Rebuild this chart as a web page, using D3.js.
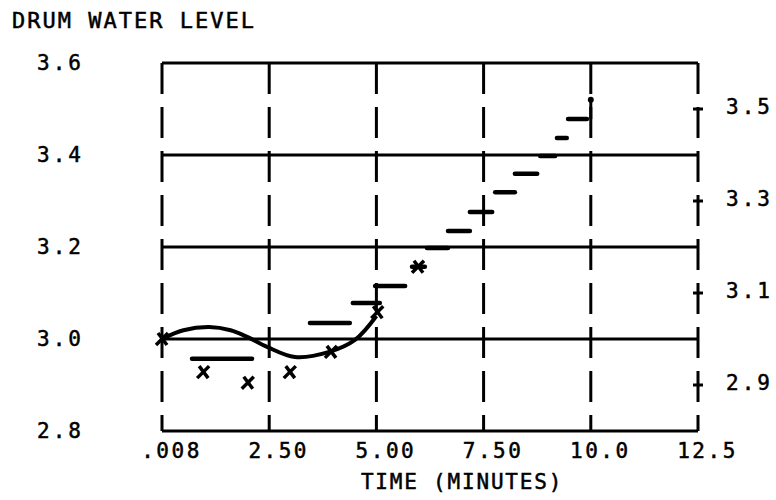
<!DOCTYPE html>
<html>
<head>
<meta charset="utf-8">
<script src="https://cdn.jsdelivr.net/npm/d3@7"></script>
<style>
  body { margin: 0; background: #fff; }
  text { font-family: "DejaVu Sans Mono", monospace; fill: #000; stroke: #000; stroke-width: 0.5px; }
</style>
</head>
<body>
<script>
// tick values and labels
var xTicks = [0, 2.5, 5, 7.5, 10, 12.5];
var xTickLabels = [".008", "2.50", "5.00", "7.50", "10.0", "12.5"];
var yTicksLeft = [2.8, 3.0, 3.2, 3.4, 3.6];
var yTickLabelsLeft = ["2.8", "3.0", "3.2", "3.4", "3.6"];
var yTicksRight = [2.9, 3.1, 3.3, 3.5];
var yTickLabelsRight = ["2.9", "3.1", "3.3", "3.5"];
var gridLevels = [3.0, 3.2, 3.4];

// smooth response curve
var curveTime  = [0, 0.5, 1.1, 1.6, 2.0, 2.45, 3.1, 3.9, 4.5, 5.0];
var curveLevel = [3.0, 3.019, 3.026, 3.019, 3.004, 2.983, 2.961, 2.972, 2.998, 3.05];

// step dashes
var stepStart = [0.70, 3.45, 4.45, 4.97, 5.83, 6.18, 6.67, 7.18, 7.77, 8.23, 8.82, 9.21, 9.47];
var stepEnd   = [2.10, 4.38, 5.08, 5.67, 6.13, 6.67, 7.18, 7.70, 8.23, 8.75, 9.17, 9.44, 9.91];
var stepLevel = [2.957, 3.035, 3.078, 3.115, 3.157, 3.198, 3.235, 3.276, 3.319, 3.359, 3.398, 3.437, 3.478];

// final rise at t = 10
var riseTime = 10.0;
var riseLevels = [3.478, 3.52];

// x markers
var markTime  = [0, 0.96, 2.0, 2.98, 3.94, 5.02, 5.97];
var markLevel = [3.0, 2.928, 2.905, 2.928, 2.972, 3.058, 3.157];

var svg = d3.select("body").append("svg")
    .attr("width", 776)
    .attr("height", 500);

var x = d3.scaleLinear().domain([0, 12.5]).range([162, 698]);
var y = d3.scaleLinear().domain([2.8, 3.6]).range([431, 63]);

svg.append("text")
    .attr("x", 12)
    .attr("y", 28)
    .style("font-size", "22px")
    .style("letter-spacing", "2px")
    .text("DRUM WATER LEVEL");

// vertical dashed grid
svg.selectAll(".vgrid")
    .data(xTicks)
    .enter()
    .append("line")
    .attr("x1", function(d) { return x(d); })
    .attr("x2", function(d) { return x(d); })
    .attr("y1", y(3.6))
    .attr("y2", y(2.8))
    .attr("stroke", "#000")
    .attr("stroke-width", 3)
    .attr("stroke-dasharray", "31,13");

// horizontal solid lines
svg.selectAll(".hgrid")
    .data(gridLevels.concat([2.8, 3.6]))
    .enter()
    .append("line")
    .attr("x1", x(0))
    .attr("x2", x(12.5))
    .attr("y1", function(d) { return y(d); })
    .attr("y2", function(d) { return y(d); })
    .attr("stroke", "#000")
    .attr("stroke-width", 3);

// left axis labels
var left = svg.append("g")
    .attr("transform", "translate(" + x(0) + ",0)")
    .call(d3.axisLeft(y).tickValues(yTicksLeft).tickSize(0).tickPadding(78)
        .tickFormat(function(d, i) { return yTickLabelsLeft[i]; }));
left.select(".domain").remove();
left.selectAll("text")
    .style("font-size", "21px")
    .style("letter-spacing", "3px")
    .attr("font-family", null);

// right axis ticks and labels
svg.selectAll(".rtick")
    .data(yTicksRight)
    .enter()
    .append("line")
    .attr("x1", x(12.5) - 5)
    .attr("x2", x(12.5) + 5)
    .attr("y1", function(d) { return y(d); })
    .attr("y2", function(d) { return y(d); })
    .attr("stroke", "#000")
    .attr("stroke-width", 3);
svg.selectAll(".rlabel")
    .data(yTicksRight)
    .enter()
    .append("text")
    .attr("x", 726)
    .attr("y", function(d) { return y(d) - 2; })
    .attr("dy", "0.35em")
    .style("font-size", "21px")
    .style("letter-spacing", "3px")
    .text(function(d, i) { return yTickLabelsRight[i]; });

// bottom axis labels
var bottom = svg.append("g")
    .attr("transform", "translate(9," + y(2.8) + ")")
    .call(d3.axisBottom(x).tickValues(xTicks).tickSize(0).tickPadding(12)
        .tickFormat(function(d, i) { return xTickLabels[i]; }));
bottom.select(".domain").remove();
bottom.selectAll("text")
    .style("font-size", "21px")
    .style("letter-spacing", "2.5px")
    .attr("font-family", null);

svg.append("text")
    .attr("x", 462)
    .attr("y", 489)
    .attr("text-anchor", "middle")
    .style("font-size", "21px")
    .style("letter-spacing", "1.8px")
    .text("TIME (MINUTES)");

// curve
svg.append("path")
    .datum(curveTime)
    .attr("fill", "none")
    .attr("stroke", "#000")
    .attr("stroke-width", 4)
    .attr("d", d3.line()
        .curve(d3.curveCatmullRom)
        .x(function(d) { return x(d); })
        .y(function(d, i) { return y(curveLevel[i]); }));

// step dashes
svg.selectAll(".step")
    .data(stepLevel)
    .enter()
    .append("line")
    .attr("x1", function(d, i) { return x(stepStart[i]); })
    .attr("x2", function(d, i) { return x(stepEnd[i]); })
    .attr("y1", function(d) { return y(d); })
    .attr("y2", function(d) { return y(d); })
    .attr("stroke", "#000")
    .attr("stroke-width", 4.5)
    .attr("stroke-linecap", "round");

svg.append("line")
    .attr("x1", x(riseTime))
    .attr("x2", x(riseTime))
    .attr("y1", y(riseLevels[0]))
    .attr("y2", y(riseLevels[1]))
    .attr("stroke", "#000")
    .attr("stroke-width", 3);
svg.append("circle")
    .attr("cx", x(riseTime))
    .attr("cy", y(riseLevels[1]))
    .attr("r", 3);

// x markers
svg.selectAll(".mark")
    .data(markTime)
    .enter()
    .append("path")
    .attr("transform", function(d, i) { return "translate(" + x(d) + "," + y(markLevel[i]) + ")"; })
    .attr("d", "M-4,-6L5,6M6,-6L-6,6")
    .attr("fill", "none")
    .attr("stroke", "#000")
    .attr("stroke-width", 3.5);
</script>
</body>
</html>
